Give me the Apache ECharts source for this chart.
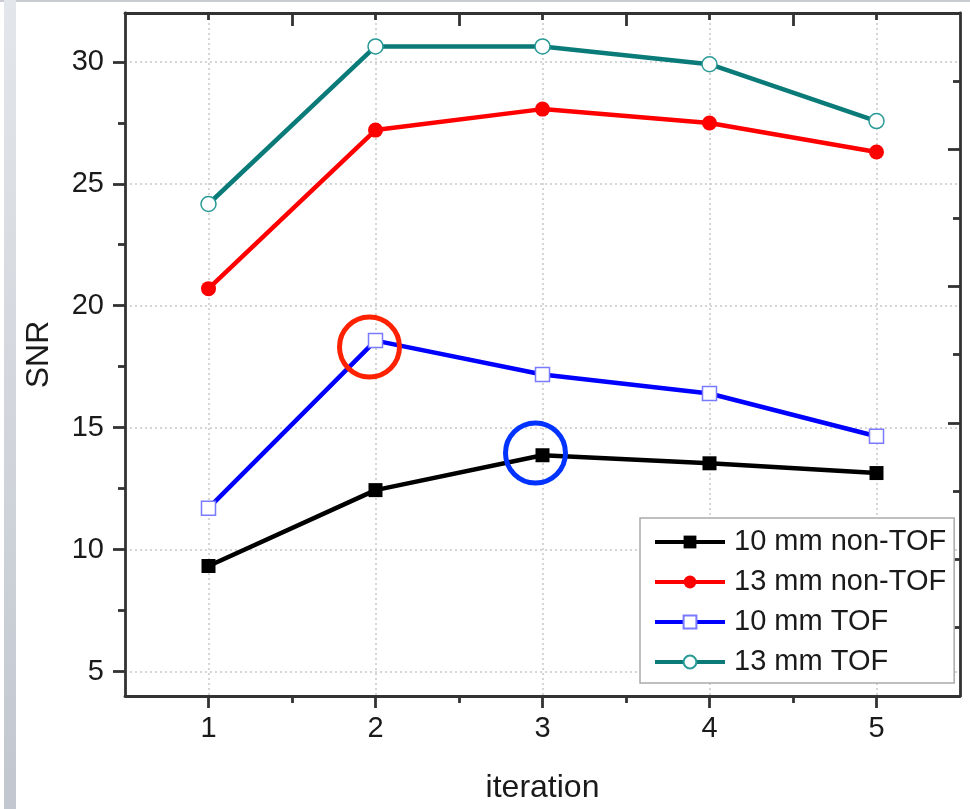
<!DOCTYPE html>
<html>
<head>
<meta charset="utf-8">
<script src="https://cdn.jsdelivr.net/npm/echarts@6/dist/echarts.min.js"></script>
<style>
html,body{margin:0;padding:0;background:#fff;}
#chart{width:970px;height:809px;}
</style>
</head>
<body>
<div id="chart"></div>
<script>
// ---- data ----
const iterations = [1, 2, 3, 4, 5];
const snr10nonTOF = [9.33, 12.44, 13.87, 13.54, 13.14];
const snr13nonTOF = [20.7, 27.2, 28.06, 27.49, 26.3];
const snr10TOF = [11.7, 18.57, 17.18, 16.4, 14.65];
const snr13TOF = [24.17, 30.63, 30.63, 29.9, 27.57];
const seriesNames = ['10 mm non-TOF', '13 mm non-TOF', '10 mm TOF', '13 mm TOF'];
const yTickValues = [5, 10, 15, 20, 25, 30];
const yMinorValues = [7.5, 12.5, 17.5, 22.5, 27.5];
const xMinorValues = [1.5, 2.5, 3.5, 4.5];
const rightMajor = [1, 2, 3, 4];
const rightMinor = [0.5, 1.5, 2.5, 3.5, 4.5];
// highlight circles (data coordinates)
const highlightRed = [1.964, 18.31];
const highlightBlue = [2.958, 13.96];

const FONT = 'Liberation Sans, Arial, sans-serif';
const AX = '#333';
const gridLine = { show: true, lineStyle: { color: '#c8c8c8', width: 1.5, type: [2, 3] } };

function pairs(vals) { return iterations.map((x, i) => [x, vals[i]]); }

const chart = echarts.init(document.getElementById('chart'), null, { renderer: 'canvas' });

const hiddenLine = { show: false, onZero: false };
const mainLine = { show: true, onZero: false, lineStyle: { color: AX, width: 2.8 } };
const tickStyle = { color: AX, width: 2.8 };

const option = {
  animation: false,
  backgroundColor: '#fff',
  grid: { left: 125, right: 10, top: 13, bottom: 111, containLabel: false },
  graphic: [
    { type: 'rect', shape: { x: 0, y: 0, width: 970, height: 2 }, style: { fill: '#c9cdd3' }, silent: true },
    { type: 'rect', shape: { x: 4, y: 0, width: 12, height: 809 },
      style: { fill: new echarts.graphic.LinearGradient(0, 0, 0, 1, [
        { offset: 0, color: '#e3e6ea' }, { offset: 1, color: '#c2c7cf' }]) }, silent: true }
  ],
  legend: {
    left: 640, top: 518,
    orient: 'vertical',
    padding: [9, 8, 6, 13],
    itemWidth: 70, itemHeight: 16, itemGap: 10,
    backgroundColor: '#fff',
    borderColor: '#aaaaaa', borderWidth: 1.5,
    lineStyle: { width: 4 },
    textStyle: { fontFamily: FONT, fontSize: 29, color: '#1a1a1a', lineHeight: 30, padding: [0, 0, 0, 4] },
    data: seriesNames
  },
  xAxis: [
    { type: 'value', position: 'bottom', min: 0.5, max: 5.5,
      axisLine: mainLine,
      axisTick: { show: true, length: 12, inside: false, customValues: iterations, lineStyle: tickStyle },
      axisLabel: { show: true, customValues: iterations, margin: 18, fontFamily: FONT, fontSize: 29, color: '#1a1a1a' },
      splitLine: gridLine,
      name: 'iteration', nameLocation: 'middle', nameGap: 76,
      nameTextStyle: { fontFamily: FONT, fontSize: 32, color: '#1a1a1a' } },
    { type: 'value', position: 'bottom', min: 0.5, max: 5.5,
      axisLine: hiddenLine,
      axisTick: { show: true, length: 7, inside: false, customValues: xMinorValues, lineStyle: tickStyle },
      axisLabel: { show: false }, splitLine: { show: false } },
    { type: 'value', position: 'top', min: 0.5, max: 5.5,
      axisLine: mainLine,
      axisTick: { show: true, length: 13, inside: true, customValues: xMinorValues, lineStyle: tickStyle },
      axisLabel: { show: false }, splitLine: { show: false } },
    { type: 'value', position: 'top', min: 0.5, max: 5.5,
      axisLine: hiddenLine,
      axisTick: { show: true, length: 7, inside: true, customValues: iterations, lineStyle: tickStyle },
      axisLabel: { show: false }, splitLine: { show: false } }
  ],
  yAxis: [
    { type: 'value', position: 'left', min: 4, max: 32,
      axisLine: mainLine,
      axisTick: { show: true, length: 12, inside: false, customValues: yTickValues, lineStyle: tickStyle },
      axisLabel: { show: true, customValues: yTickValues, margin: 21, fontFamily: FONT, fontSize: 29, color: '#1a1a1a' },
      splitLine: gridLine,
      name: 'SNR', nameLocation: 'middle', nameGap: 70, nameRotate: 90,
      nameTextStyle: { fontFamily: FONT, fontSize: 32, color: '#1a1a1a' } },
    { type: 'value', position: 'left', min: 4, max: 32,
      axisLine: hiddenLine,
      axisTick: { show: true, length: 7, inside: false, customValues: yMinorValues, lineStyle: tickStyle },
      axisLabel: { show: false }, splitLine: { show: false } },
    { type: 'value', position: 'right', min: 0, max: 5,
      axisLine: mainLine,
      axisTick: { show: true, length: 12, inside: true, customValues: rightMajor, lineStyle: tickStyle },
      axisLabel: { show: false }, splitLine: { show: false } },
    { type: 'value', position: 'right', min: 0, max: 5,
      axisLine: hiddenLine,
      axisTick: { show: true, length: 7, inside: true, customValues: rightMinor, lineStyle: tickStyle },
      axisLabel: { show: false }, splitLine: { show: false } }
  ],
  series: [
    { name: seriesNames[0], type: 'line', xAxisIndex: 0, yAxisIndex: 0, data: pairs(snr10nonTOF),
      symbol: 'rect', symbolSize: 14, lineStyle: { color: '#000', width: 4.5 },
      itemStyle: { color: '#000', borderColor: '#000', borderWidth: 0 } },
    { name: seriesNames[1], type: 'line', xAxisIndex: 0, yAxisIndex: 0, data: pairs(snr13nonTOF),
      symbol: 'circle', symbolSize: 15, lineStyle: { color: '#ff0000', width: 4.5 },
      itemStyle: { color: '#ff0000', borderColor: '#ff0000', borderWidth: 0 } },
    { name: seriesNames[2], type: 'line', xAxisIndex: 0, yAxisIndex: 0, data: pairs(snr10TOF),
      symbol: 'rect', symbolSize: 14, lineStyle: { color: '#0000ff', width: 4.5 },
      itemStyle: { color: '#ffffff', borderColor: '#7a7aff', borderWidth: 1.5 },
      markPoint: {
        symbol: 'circle', symbolSize: 60, silent: true,
        label: { show: false },
        data: [
          { coord: highlightRed, itemStyle: { color: 'rgba(0,0,0,0)', borderColor: '#ff2200', borderWidth: 5 } },
          { coord: highlightBlue, itemStyle: { color: 'rgba(0,0,0,0)', borderColor: '#0033ff', borderWidth: 5 } }
        ]
      } },
    { name: seriesNames[3], type: 'line', xAxisIndex: 0, yAxisIndex: 0, data: pairs(snr13TOF),
      symbol: 'circle', symbolSize: 15, lineStyle: { color: '#0a7b78', width: 4.5 },
      itemStyle: { color: '#ffffff', borderColor: '#2a9a96', borderWidth: 1.5 } }
  ]
};
chart.setOption(option);
</script>
</body>
</html>
